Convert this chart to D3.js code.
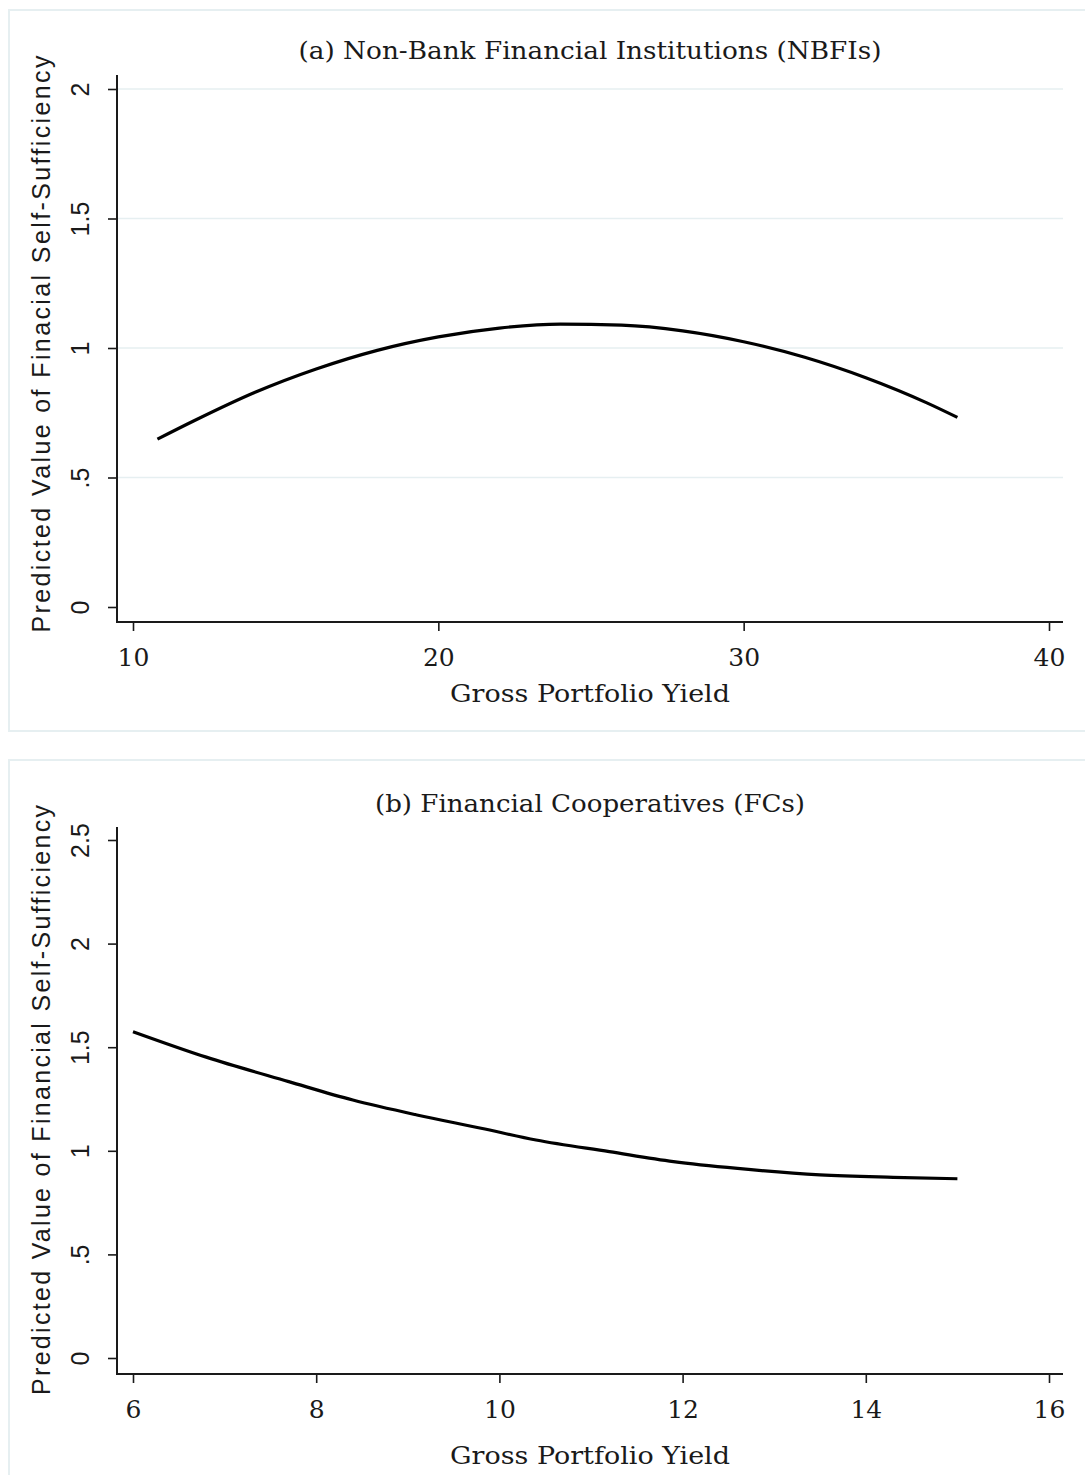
<!DOCTYPE html>
<html>
<head>
<meta charset="utf-8">
<script src="https://cdn.jsdelivr.net/npm/d3@7"></script>
<style>
  html, body { margin: 0; padding: 0; background: #ffffff; }
  svg { display: block; }
</style>
</head>
<body>
<svg id="chart" width="1085" height="1475"></svg>
<script>
// Panel (a): Non-Bank Financial Institutions
const nbfiYield = [10.8, 12, 14, 16, 18, 20, 22, 24, 26, 28, 30, 32, 34, 36, 37];
const nbfiFss   = [0.648, 0.719, 0.829, 0.919, 0.991, 1.043, 1.077, 1.092, 1.088, 1.066, 1.024, 0.964, 0.885, 0.788, 0.732];
const nbfiXTicks = [10, 20, 30, 40];
const nbfiYTicks = [0, 0.5, 1, 1.5, 2];

// Panel (b): Financial Cooperatives
const fcYield = [6.0, 6.8, 7.7, 8.4, 9.1, 9.8, 10.4, 11.2, 11.9, 12.6, 13.5, 14.3, 15.0];
const fcFss   = [1.575, 1.452, 1.334, 1.245, 1.173, 1.109, 1.052, 0.996, 0.948, 0.915, 0.884, 0.872, 0.865];
const fcXTicks = [6, 8, 10, 12, 14, 16];
const fcYTicks = [0, 0.5, 1, 1.5, 2, 2.5];

const panelTitles = ["(a) Non-Bank Financial Institutions (NBFIs)", "(b) Financial Cooperatives (FCs)"];
const yTitles = ["Predicted Value of Finacial Self-Sufficiency", "Predicted Value of Financial Self-Sufficiency"];
const xTitle = "Gross Portfolio Yield";

const svg = d3.select("#chart");
const SERIF = "'DejaVu Serif', 'Liberation Serif', serif";
const SANS = "'Liberation Sans', 'DejaVu Sans', sans-serif";
const INK = "#1a1a1a";

const fmtY = d => String(d).replace(/^0\./, ".");

function drawPanel(opt) {
  const g = svg.append("g");

  // light outer frame of the panel
  g.append("rect")
    .attr("x", 9).attr("y", opt.frameTop)
    .attr("width", 1100).attr("height", opt.frameHeight)
    .attr("fill", "none").attr("stroke", "#e6eff1").attr("stroke-width", 2);

  const x = d3.scaleLinear().domain(opt.xDomain).range([133, 1049]);
  const y = d3.scaleLinear().domain(opt.yDomain).range([opt.y0, opt.yTop]);

  // horizontal gridlines
  if (opt.grid) {
    g.append("g").selectAll("line")
      .data(opt.yTicks.filter(v => v > opt.yDomain[0]))
      .join("line")
      .attr("x1", 117).attr("x2", 1063)
      .attr("y1", d => y(d)).attr("y2", d => y(d))
      .attr("stroke", "#e6eff1").attr("stroke-width", 1.6);
  }

  // y axis
  const ya = g.append("g").attr("transform", "translate(117,0)")
    .call(d3.axisLeft(y).tickValues(opt.yTicks).tickFormat(fmtY).tickSize(9).tickSizeOuter(0));
  ya.select(".domain").remove();
  ya.selectAll(".tick line").attr("stroke", INK).attr("stroke-width", 1.6);
  ya.selectAll(".tick text")
    .attr("x", null).attr("dy", null)
    .attr("transform", "translate(-37,0) rotate(-90)")
    .attr("dy", "0.36em")
    .attr("text-anchor", "middle")
    .attr("fill", INK)
    .style("font-family", SANS).style("font-size", "25px");
  g.append("line")
    .attr("x1", 117).attr("x2", 117)
    .attr("y1", opt.axisTop).attr("y2", opt.axisBottom + 1)
    .attr("stroke", INK).attr("stroke-width", 2);

  // x axis
  const xa = g.append("g").attr("transform", `translate(0,${opt.axisBottom})`)
    .call(d3.axisBottom(x).tickValues(opt.xTicks).tickSize(9).tickPadding(17).tickSizeOuter(0));
  xa.select(".domain").remove();
  xa.selectAll(".tick line").attr("stroke", INK).attr("stroke-width", 1.6);
  xa.selectAll(".tick text")
    .attr("fill", INK)
    .style("font-family", SERIF).style("font-size", "25px");
  g.append("line")
    .attr("x1", 116).attr("x2", 1063)
    .attr("y1", opt.axisBottom).attr("y2", opt.axisBottom)
    .attr("stroke", INK).attr("stroke-width", 2);

  // fitted curve
  const pts = opt.xs.map((v, i) => [v, opt.ys[i]]);
  g.append("path")
    .datum(pts)
    .attr("fill", "none").attr("stroke", "#000").attr("stroke-width", 3.2)
    .attr("stroke-linejoin", "round")
    .attr("d", d3.line().x(d => x(d[0])).y(d => y(d[1])).curve(d3.curveMonotoneX));

  // titles
  g.append("text")
    .attr("x", 590).attr("y", opt.titleY).attr("dy", "0.35em")
    .attr("text-anchor", "middle").attr("fill", INK)
    .attr("textLength", opt.titleLen).attr("lengthAdjust", "spacingAndGlyphs")
    .style("font-family", SERIF).style("font-size", "25px")
    .text(opt.title);

  g.append("text")
    .attr("x", 590).attr("y", opt.xTitleY).attr("dy", "0.35em")
    .attr("text-anchor", "middle").attr("fill", INK)
    .attr("textLength", 280).attr("lengthAdjust", "spacingAndGlyphs")
    .style("font-family", SERIF).style("font-size", "25px")
    .text(xTitle);

  g.append("text")
    .attr("transform", `translate(41,${opt.yTitleMid}) rotate(-90)`)
    .attr("dy", "0.35em")
    .attr("text-anchor", "middle").attr("fill", INK)
    .attr("textLength", opt.yTitleLen).attr("lengthAdjust", "spacing")
    .style("font-family", SANS).style("font-size", "25px")
    .text(opt.yTitle);
}

drawPanel({
  frameTop: 10, frameHeight: 721,
  xDomain: [10, 40], yDomain: [0, 2],
  y0: 607, yTop: 89, axisTop: 75, axisBottom: 622,
  xTicks: nbfiXTicks, yTicks: nbfiYTicks,
  xs: nbfiYield, ys: nbfiFss, grid: true,
  title: panelTitles[0], titleLen: 583, titleY: 50, xTitleY: 693,
  yTitle: yTitles[0], yTitleMid: 344, yTitleLen: 577
});

drawPanel({
  frameTop: 760, frameHeight: 760,
  xDomain: [6, 16], yDomain: [0, 2.5],
  y0: 1358, yTop: 840, axisTop: 827, axisBottom: 1374,
  xTicks: fcXTicks, yTicks: fcYTicks,
  xs: fcYield, ys: fcFss, grid: false,
  title: panelTitles[1], titleLen: 430, titleY: 803, xTitleY: 1455,
  yTitle: yTitles[1], yTitleMid: 1100, yTitleLen: 590
});
</script>
</body>
</html>
